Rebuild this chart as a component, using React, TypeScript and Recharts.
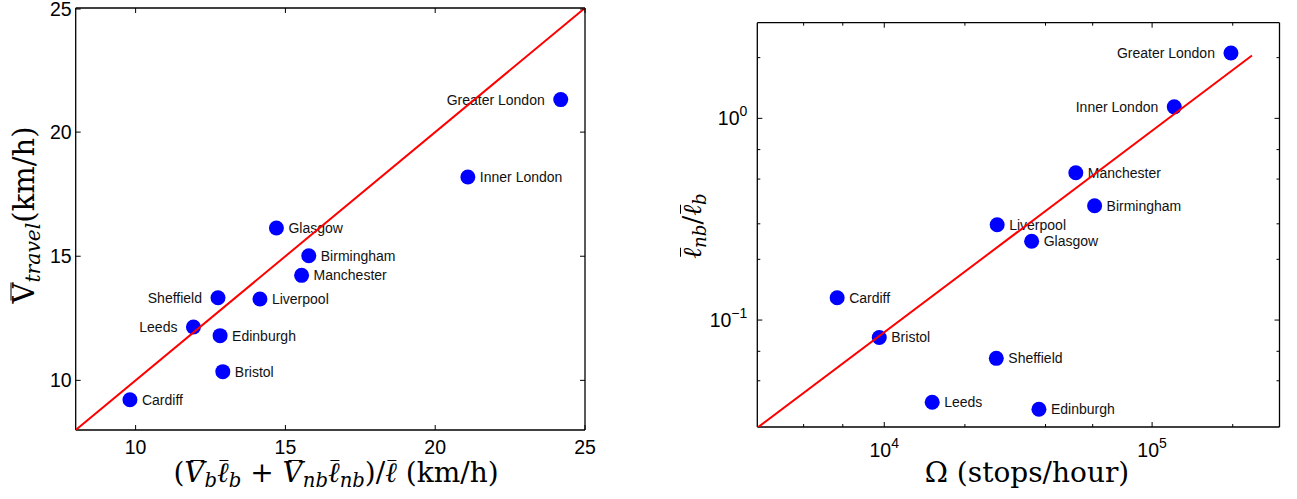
import React from "react";
import { ScatterChart, Scatter, XAxis, YAxis } from "recharts";

// city order is shared by every series below
const cities = [
  "Greater London",
  "Inner London",
  "Glasgow",
  "Birmingham",
  "Manchester",
  "Sheffield",
  "Liverpool",
  "Leeds",
  "Edinburgh",
  "Bristol",
  "Cardiff",
];

// left panel: weighted speed vs travel speed (km/h)
const weightedSpeed = [24.19, 21.09, 14.7, 15.78, 15.54, 12.75, 14.15, 11.93, 12.82, 12.91, 9.81];
const travelSpeed = [21.31, 18.19, 16.14, 15.02, 14.23, 13.33, 13.28, 12.15, 11.8, 10.35, 9.22];

// right panel: stops per hour vs length ratio
const stopsPerHour = [197000, 121000, 35500, 61000, 51900, 26200, 26400, 15100, 37800, 9580, 6670];
const lengthRatio = [2.11, 1.14, 0.246, 0.369, 0.537, 0.0646, 0.297, 0.0391, 0.0361, 0.082, 0.129];

// reference lines
const identityX = [8, 25];
const identityY = [8, 25];
const fitStops = [3357, 236000];
const fitRatio = [0.0292, 2.05];

// names drawn on the left of their marker
const leftNamesA = ["Greater London", "Sheffield", "Leeds"];
const leftNamesB = ["Greater London", "Inner London"];

// ticks
const speedTicks = [10, 15, 20, 25];
const stopsMajor = [10000, 100000];
const stopsMinor = [4000, 5000, 6000, 7000, 8000, 9000, 20000, 30000, 40000, 50000, 60000, 70000, 80000, 90000, 200000];
const ratioMajor = [0.1, 1];
const ratioMinor = [0.04, 0.05, 0.06, 0.07, 0.08, 0.09, 0.2, 0.3, 0.4, 0.5, 0.6, 0.7, 0.8, 0.9, 2];

const speedPoints = cities.map((city, i) => ({ city, x: weightedSpeed[i], y: travelSpeed[i] }));
const stopPoints = cities.map((city, i) => ({ city, x: stopsPerHour[i], y: lengthRatio[i] }));
const identityLine = identityX.map((x, i) => ({ x, y: identityY[i] }));
const fitLine = fitStops.map((x, i) => ({ x, y: fitRatio[i] }));

const SANS = "'Liberation Sans', Arial, Helvetica, sans-serif";
const SERIF = "'DejaVu Serif', serif";
const AXIS = { stroke: "#000", strokeWidth: 1.3 };

type Side = "bottom" | "top" | "left" | "right";

function makeTick(
  side: Side,
  isMajor: (v: number) => boolean,
  label?: (v: number) => React.ReactNode,
  gap = 4
) {
  return function Tick(props: any) {
    const { x, y, payload } = props;
    const v = payload.value as number;
    const len = isMajor(v) ? 5 : 3;
    let line;
    if (side === "bottom") line = <line x1={x} x2={x} y1={y} y2={y - len} />;
    else if (side === "top") line = <line x1={x} x2={x} y1={y} y2={y + len} />;
    else if (side === "left") line = <line x1={x} x2={x + len} y1={y} y2={y} />;
    else line = <line x1={x} x2={x - len} y1={y} y2={y} />;
    const txt = label ? label(v) : null;
    // keep the top-most label inside the page
    const ty = Math.max(y + 7, 16);
    return (
      <g>
        <g stroke="#000" strokeWidth={1}>{line}</g>
        {txt && (
          <g fill="#000" fontFamily={SANS} fontSize={19.5}>
            {side === "bottom" ? (
              <text x={x} y={y + gap} textAnchor="middle">{txt}</text>
            ) : (
              <text x={x - gap} y={ty} textAnchor="end">{txt}</text>
            )}
          </g>
        )}
      </g>
    );
  };
}

const linearLabel = (v: number) => String(v);
const powerLabel = (v: number) => {
  const e = Math.round(Math.log10(v));
  return (
    <>
      10
      <tspan dy={-9} fontSize={14}>{e < 0 ? `\u2212${-e}` : String(e)}</tspan>
    </>
  );
};
const logLabelX = (v: number) => (stopsMajor.includes(v) ? powerLabel(v) : null);
const logLabelY = (v: number) => (ratioMajor.includes(v) ? powerLabel(v) : null);
const always = () => true;
const majorStops = (v: number) => stopsMajor.includes(v);
const majorRatio = (v: number) => ratioMajor.includes(v);

function cityShape(leftNames: string[]) {
  return function CityDot(p: any) {
    const { cx, cy, payload } = p;
    const left = leftNames.includes(payload.city);
    return (
      <g>
        <circle cx={cx} cy={cy} r={7.5} fill="#0000ff" />
        <text
          x={left ? cx - 16 : cx + 12}
          y={cy + 5}
          textAnchor={left ? "end" : "start"}
          fontFamily={SANS}
          fontSize={14}
          fill="#111"
        >
          {payload.city}
        </text>
      </g>
    );
  };
}

const noMark = () => <g />;

function Bar({ children, left = "28%" }: { children: React.ReactNode; left?: string }) {
  return (
    <span style={{ position: "relative", display: "inline-block" }}>
      {children}
      <span
        style={{
          position: "absolute",
          left,
          right: "2%",
          top: "0.03em",
          height: 0,
          borderTop: "1.6px solid #000",
        }}
      />
    </span>
  );
}

function Sub({ children }: { children: React.ReactNode }) {
  return (
    <span style={{ fontSize: "0.7em", position: "relative", top: "0.28em", fontStyle: "italic" }}>
      {children}
    </span>
  );
}

const I = ({ children }: { children: React.ReactNode }) => <i>{children}</i>;

function SpeedChart() {
  return (
    <ScatterChart width={600} height={499} margin={{ top: 7, right: 14, bottom: 0, left: 0 }}>
      <XAxis xAxisId="b" type="number" dataKey="x" domain={[8, 25]} ticks={speedTicks} height={69}
        allowDataOverflow axisLine={AXIS} tickLine={false} tickSize={0} tickMargin={0}
        tick={makeTick("bottom", always, linearLabel, 23.5)} />
      <XAxis xAxisId="t" orientation="top" type="number" dataKey="x" domain={[8, 25]} ticks={speedTicks} height={1}
        allowDataOverflow axisLine={AXIS} tickLine={false} tickSize={0} tickMargin={0}
        tick={makeTick("top", always)} />
      <YAxis yAxisId="l" type="number" dataKey="y" domain={[8, 25]} ticks={speedTicks} width={75.7}
        allowDataOverflow axisLine={AXIS} tickLine={false} tickSize={0} tickMargin={0}
        tick={makeTick("left", always, linearLabel, 4)} />
      <YAxis yAxisId="r" orientation="right" type="number" dataKey="y" domain={[8, 25]} ticks={speedTicks} width={1}
        allowDataOverflow axisLine={AXIS} tickLine={false} tickSize={0} tickMargin={0}
        tick={makeTick("right", always)} />
      <Scatter xAxisId="b" yAxisId="l" data={speedPoints} shape={cityShape(leftNamesA)} isAnimationActive={false} />
      <Scatter xAxisId="t" yAxisId="r" data={identityLine} line={{ stroke: "#ff0000", strokeWidth: 2 }}
        shape={noMark} isAnimationActive={false} />
    </ScatterChart>
  );
}

function StopsChart() {
  const ticksX = [...stopsMinor, ...stopsMajor].sort((a, b) => a - b);
  const ticksY = [...ratioMinor, ...ratioMajor].sort((a, b) => a - b);
  return (
    <ScatterChart width={647} height={499} margin={{ top: 21.7, right: 16.5, bottom: 0, left: 0 }}>
      <XAxis xAxisId="b" type="number" scale="log" dataKey="x" domain={[3357, 299000]} ticks={ticksX} height={72}
        allowDataOverflow axisLine={AXIS} tickLine={false} tickSize={0} tickMargin={0}
        tick={makeTick("bottom", majorStops, logLabelX, 30)} />
      <XAxis xAxisId="t" orientation="top" type="number" scale="log" dataKey="x" domain={[3357, 299000]} ticks={ticksX} height={1}
        allowDataOverflow axisLine={AXIS} tickLine={false} tickSize={0} tickMargin={0}
        tick={makeTick("top", majorStops)} />
      <YAxis yAxisId="l" type="number" scale="log" dataKey="y" domain={[0.0295, 2.98]} ticks={ticksY} width={107.3}
        allowDataOverflow axisLine={AXIS} tickLine={false} tickSize={0} tickMargin={0}
        tick={makeTick("left", majorRatio, logLabelY, 10)} />
      <YAxis yAxisId="r" orientation="right" type="number" scale="log" dataKey="y" domain={[0.0295, 2.98]} ticks={ticksY} width={1}
        allowDataOverflow axisLine={AXIS} tickLine={false} tickSize={0} tickMargin={0}
        tick={makeTick("right", majorRatio)} />
      <Scatter xAxisId="b" yAxisId="l" data={stopPoints} shape={cityShape(leftNamesB)} isAnimationActive={false} />
      <Scatter xAxisId="t" yAxisId="r" data={fitLine} line={{ stroke: "#ff0000", strokeWidth: 2 }}
        shape={noMark} isAnimationActive={false} />
    </ScatterChart>
  );
}

const titleBase: React.CSSProperties = {
  position: "absolute",
  fontFamily: SERIF,
  lineHeight: 1,
  whiteSpace: "nowrap",
  color: "#000",
};

export default function App() {
  return (
    <div style={{ position: "fixed", left: 0, top: 0, width: 1297, height: 499, background: "#fff", overflow: "hidden" }}>
      <div style={{ position: "absolute", left: 0, top: 0 }}>
        <SpeedChart />
      </div>
      <div style={{ position: "absolute", left: 650, top: 0 }}>
        <StopsChart />
      </div>

      {/* left y title */}
      <div style={{ ...titleBase, fontSize: 29, left: 24, top: 215, transform: "translate(-50%,-50%) rotate(-90deg)" }}>
        <Bar left="12%"><span>V</span></Bar>
        <Sub>travel</Sub>(km/h)
      </div>

      {/* left x title */}
      <div style={{ ...titleBase, fontSize: 28, left: 336, top: 459, transform: "translateX(-50%)" }}>
        (<Bar><I>V</I></Bar><Sub>b</Sub>
        <Bar left="20%"><I>ℓ</I></Bar><Sub>b</Sub> + <Bar><I>V</I></Bar><Sub>nb</Sub>
        <Bar left="20%"><I>ℓ</I></Bar><Sub>nb</Sub>)/<Bar left="20%"><I>ℓ</I></Bar> (km/h)
      </div>

      {/* right y title */}
      <div style={{ ...titleBase, fontSize: 26, left: 692, top: 226, transform: "translate(-50%,-50%) rotate(-90deg)" }}>
        <Bar left="20%"><I>ℓ</I></Bar><Sub>nb</Sub>/<Bar left="20%"><I>ℓ</I></Bar><Sub>b</Sub>
      </div>

      {/* right x title */}
      <div style={{ ...titleBase, fontSize: 28, left: 1027, top: 459, transform: "translateX(-50%)" }}>
        Ω (stops/hour)
      </div>
    </div>
  );
}
